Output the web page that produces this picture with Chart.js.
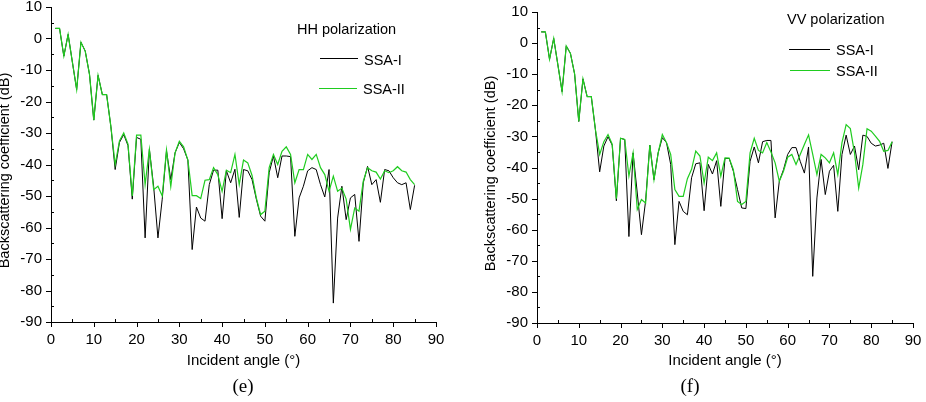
<!DOCTYPE html>
<html>
<head>
<meta charset="utf-8">
<script src="https://cdn.jsdelivr.net/npm/chart.js@4.4.0/dist/chart.umd.min.js"></script>
<style>
  body { margin: 0; background: #fff; width: 926px; height: 402px; position: relative; overflow: hidden; font-family: "Liberation Sans", Arial, sans-serif; }
  canvas { position: absolute; top: 0; }
  #hhChart { left: 0; }
  #vvChart { left: 463px; }
  .txt { position: absolute; font-size: 14.5px; line-height: 1; transform: translateY(-50%); white-space: nowrap; color: #000; }
  .key { position: absolute; height: 0; border-top: 1px solid #000; }
  .cap { position: absolute; font-family: "Liberation Serif", "Times New Roman", serif; font-size: 19px; line-height: 1; transform: translate(-50%, -50%); }
</style>
</head>
<body>
<canvas id="hhChart" width="463" height="402"></canvas>
<canvas id="vvChart" width="463" height="402"></canvas>

<div class="txt" style="left:297px; top:29px;">HH polarization</div>
<div class="key" style="left:320px; top:58px; width:38px; border-color:#000;"></div>
<div class="txt" style="left:364px; top:60px;">SSA-I</div>
<div class="key" style="left:319px; top:88px; width:38px; border-color:#1fcc1f;"></div>
<div class="txt" style="left:363px; top:89px;">SSA-II</div>
<div class="cap" style="left:243px; top:385px;">(e)</div>

<div class="txt" style="left:787px; top:19px;">VV polarization</div>
<div class="key" style="left:789px; top:49px; width:41px; border-color:#000;"></div>
<div class="txt" style="left:836px; top:50px;">SSA-I</div>
<div class="key" style="left:790px; top:70px; width:40px; border-color:#1fcc1f;"></div>
<div class="txt" style="left:836px; top:71px;">SSA-II</div>
<div class="cap" style="left:690px; top:385px;">(f)</div>

<script>
// angulo de incidencia (graus)
const angles = [1,2,3,4,5,6,7,8,9,10,11,12,13,14,15,16,17,18,19,20,
  21,22,23,24,25,26,27,28,29,30,31,32,33,34,35,36,37,38,39,40,
  41,42,43,44,45,46,47,48,49,50,51,52,53,54,55,56,57,58,59,60,
  61,62,63,64,65,66,67,68,69,70,71,72,73,74,75,76,77,78,79,80,
  81,82,83,84,85];

// HH polarization (dB)
const hhSSA1 = [3.2,3.2,-5.6,1.3,-7.5,-16.2,-1.2,-4.0,-11.4,-25.9,
  -11.7,-17.8,-17.8,-28,-41.6,-33,-30.5,-34,-51,-31.4,
  -32,-63.3,-35.2,-47,-63.3,-51,-35.7,-44.8,-36.3,-33,
  -35,-38.6,-67,-53.5,-57,-58,-46.4,-41.8,-41.8,-57.2,
  -42,-45.8,-41.5,-56.8,-41.6,-42,-44.8,-51,-56.4,-58,
  -42.6,-37.3,-44.2,-37.3,-37.3,-37.5,-62.8,-50.6,-46.9,-42,
  -41,-41.6,-46.4,-50.3,-41.6,-84,-57,-46.9,-57.5,-50.6,
  -49.5,-64.4,-45.8,-40.6,-46.4,-44.8,-52,-41.6,-42,-44.2,
  -45.8,-46.4,-45.8,-54.3,-46.6];
const hhSSA2 = [3.2,3.2,-5.6,1.3,-7.5,-16.2,-1.2,-4.0,-11.4,-25.9,
  -11.7,-17.8,-17.8,-28,-40,-32.5,-30,-33.5,-50,-30.7,
  -30.7,-46.4,-35.2,-48,-46.9,-50,-35.4,-47,-36.3,-32.6,
  -34.4,-38.6,-49.9,-49.9,-50.8,-45,-44.8,-41,-43.2,-48.5,
  -41.8,-42.6,-36.8,-46.4,-38.6,-39.5,-43.5,-50.6,-55.9,-54.8,
  -41,-36.8,-40,-35.8,-34.4,-36.8,-45.8,-41.6,-41.6,-36.8,
  -38.4,-36.8,-41,-43.2,-48.5,-43.7,-48.5,-47.5,-51,-60.6,
  -53.8,-54.8,-45.3,-41,-42,-42.4,-44.6,-42,-42.6,-42,
  -40.7,-42,-42.4,-44.8,-46.4];

// VV polarization (dB)
const vvSSA1 = [3.6,3.6,-5.2,1.5,-7,-15.6,-0.9,-3.3,-9.9,-25.2,
  -11.5,-17.2,-17.2,-28,-41.4,-33.1,-30.1,-32.8,-50.7,-30.6,
  -31,-62.2,-35.3,-48.2,-61.6,-50.7,-32.8,-43.9,-35.3,-30.4,
  -32,-39,-64.8,-50.9,-54.1,-55.2,-43.3,-38.8,-38.5,-53.9,
  -39,-42.1,-37.8,-52.5,-37.1,-37.1,-41.2,-47.1,-53,-53.2,
  -38,-33.4,-38.5,-31.7,-31.3,-31.3,-56.2,-44.4,-40.7,-35.8,
  -33.6,-33.6,-38,-41.8,-33.4,-75,-49.8,-37.4,-48.7,-41.2,
  -39.3,-54.1,-35.8,-29.6,-35.8,-33.1,-40.7,-29.6,-30,-32.2,
  -33.1,-32.8,-32.2,-40.3,-31.7];
const vvSSA2 = [3.6,3.6,-5.2,1.5,-7,-15.6,-0.9,-3.3,-9.9,-25.2,
  -11.5,-17.2,-17.2,-28,-35.8,-31.7,-29.4,-32.5,-50,-30.6,
  -31,-42.8,-35.3,-53.5,-50.3,-51.4,-32.8,-43.9,-35.3,-29.4,
  -32,-35.8,-47.1,-49.3,-49.3,-43.6,-40.6,-34.7,-36.3,-45,
  -36.7,-37.8,-35.3,-42.8,-36.9,-37,-40.7,-50.9,-51.9,-50.9,
  -35.3,-30.6,-34.5,-35.3,-32,-35,-38.5,-44.4,-41.2,-36.7,
  -35.8,-39,-35.8,-32.6,-29.5,-35.8,-42.3,-35.8,-36.9,-38.5,
  -35.3,-42.3,-32,-26.2,-27.5,-35.3,-46.6,-39,-27.5,-28.3,
  -29.9,-31.6,-34.8,-34.5,-31.7];

// rotulos dos eixos
const xTickValues = [0,10,20,30,40,50,60,70,80,90];
const yTickValues = [-90,-80,-70,-60,-50,-40,-30,-20,-10,0,10];

const FONT = '"Liberation Sans", Arial, sans-serif';
const GREEN = '#1fcc1f';

// marcas de escala: principais para fora, secundarias para dentro
const axisTicks = {
  id: 'axisTicks',
  afterDraw(chart) {
    const { ctx, chartArea: a, scales: { x, y } } = chart;
    ctx.save();
    ctx.strokeStyle = '#000';
    ctx.lineWidth = 1;
    ctx.beginPath();
    for (let v = 0; v <= 90; v += 5) {
      const px = Math.round(x.getPixelForValue(v)) + 0.5;
      if (v % 10 === 0) { ctx.moveTo(px, a.bottom); ctx.lineTo(px, a.bottom + 5); }
      else { ctx.moveTo(px, a.bottom); ctx.lineTo(px, a.bottom - 3); }
    }
    for (let v = -90; v <= 10; v += 5) {
      const py = Math.round(y.getPixelForValue(v)) + 0.5;
      if (v % 10 === 0) { ctx.moveTo(a.left - 5, py); ctx.lineTo(a.left, py); }
      else { ctx.moveTo(a.left, py); ctx.lineTo(a.left + 3, py); }
    }
    ctx.stroke();
    ctx.restore();
  }
};

function makeChart(id, s1, s2, box) {
  const ctx = document.getElementById(id).getContext('2d');
  return new Chart(ctx, {
    type: 'line',
    data: {
      datasets: [{
        label: 'SSA-I',
        data: angles.map((a, i) => ({ x: a, y: s1[i] })),
        borderColor: '#000',
        borderWidth: 1,
        order: 1
      }, {
        label: 'SSA-II',
        data: angles.map((a, i) => ({ x: a, y: s2[i] })),
        borderColor: GREEN,
        borderWidth: 1.2,
        order: 0
      }]
    },
    plugins: [axisTicks],
    options: {
      responsive: false,
      animation: false,
      events: [],
      layout: { padding: { left: 0, right: box.right, top: box.top, bottom: 0 } },
      elements: { point: { radius: 0 }, line: { tension: 0 } },
      plugins: { legend: { display: false }, tooltip: { enabled: false } },
      scales: {
        x: {
          type: 'linear', min: 0, max: 90,
          afterBuildTicks: s => { s.ticks = xTickValues.map(v => ({ value: v })); },
          afterFit: s => { s.height = box.xh; s.paddingLeft = 0; s.paddingRight = 0; },
          grid: { display: false, drawTicks: false },
          border: { color: '#000', width: 1 },
          ticks: { padding: 9, color: '#000', font: { family: FONT, size: 15 }, maxRotation: 0, autoSkip: false, callback: v => String(v) },
          title: { display: true, text: 'Incident angle (°)', color: '#000', font: { family: FONT, size: 15 }, padding: { top: 0, bottom: 32 } }
        },
        y: {
          min: -90, max: 10,
          afterBuildTicks: s => { s.ticks = yTickValues.map(v => ({ value: v })); },
          afterFit: s => { s.width = box.yw; s.paddingTop = 0; s.paddingBottom = 0; },
          grid: { display: false, drawTicks: false },
          border: { color: '#000', width: 1 },
          ticks: { padding: 9, color: '#000', font: { family: FONT, size: 15 }, autoSkip: false, callback: v => String(v) },
          title: { display: true, text: 'Backscattering coefficient (dB)   ', color: '#000', font: { family: FONT, size: 14.5, lineHeight: 1 }, padding: { top: box.tpad, bottom: 0 } }
        }
      }
    }
  });
}

makeChart('hhChart', hhSSA1, hhSSA2, { right: 27, top: 7, xh: 80, yw: 51, tpad: -2 });
makeChart('vvChart', vvSSA1, vvSSA2, { right: 13, top: 12, xh: 79, yw: 74, tpad: 21 });
</script>
</body>
</html>
